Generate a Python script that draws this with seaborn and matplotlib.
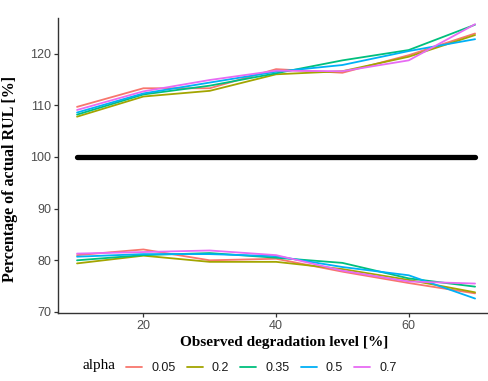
import numpy as np
import pandas as pd
import matplotlib
matplotlib.use("Agg")
import matplotlib.pyplot as plt
from matplotlib.lines import Line2D
import seaborn as sns

# Observed degradation levels [%]
levels = [10, 20, 30, 40, 50, 60, 70]
alphas = ["0.05", "0.2", "0.35", "0.5", "0.7"]

# Upper bound of the predicted RUL, per alpha [% of actual RUL]
upper_005 = [109.7, 113.3, 113.3, 117.0, 116.3, 119.7, 123.9]
upper_02 = [107.8, 111.7, 112.8, 116.0, 116.6, 119.4, 123.6]
upper_035 = [108.2, 112.1, 113.8, 116.2, 118.7, 120.7, 125.6]
upper_05 = [108.6, 112.3, 114.4, 116.5, 117.8, 120.5, 122.8]
upper_07 = [109.1, 112.7, 114.9, 116.7, 116.6, 118.7, 125.7]

# Lower bound of the predicted RUL, per alpha [% of actual RUL]
lower_005 = [81.0, 82.1, 80.0, 80.3, 77.8, 75.6, 73.6]
lower_02 = [79.4, 80.9, 79.7, 79.7, 78.3, 76.2, 73.8]
lower_035 = [80.0, 81.0, 81.4, 80.5, 79.5, 76.5, 74.9]
lower_05 = [80.7, 81.2, 81.2, 80.8, 78.7, 77.1, 72.6]
lower_07 = [81.3, 81.6, 81.9, 81.0, 78.0, 75.9, 75.5]

# Reference: the actual RUL
actual = [100, 100, 100, 100, 100, 100, 100]

uppers = [upper_005, upper_02, upper_035, upper_05, upper_07]
lowers = [lower_005, lower_02, lower_035, lower_05, lower_07]

rows = []
for a, up, lo in zip(alphas, uppers, lowers):
    for x, u, l in zip(levels, up, lo):
        rows.append({"level": x, "pct": u, "alpha": a, "bound": "upper"})
        rows.append({"level": x, "pct": l, "alpha": a, "bound": "lower"})
df = pd.DataFrame(rows)
ref = pd.DataFrame({"level": levels, "pct": actual})

palette = dict(zip(alphas, ["#F8766D", "#A3A500", "#00BF7D", "#00B0F6", "#E76BF3"]))

sns.set_theme(style="white")
plt.rcParams["font.family"] = ["Liberation Sans", "DejaVu Sans"]

W, H = 489, 381
fig = plt.figure(figsize=(W / 100, H / 100), dpi=100)
ax = fig.add_axes([58 / W, 1 - 313 / H, (W - 58) / W, (313 - 18) / H])

sns.lineplot(data=ref, x="level", y="pct", color="black", linewidth=3.8,
             ax=ax, legend=False)
sns.lineplot(data=df, x="level", y="pct", hue="alpha", units="bound",
             estimator=None, palette=palette, hue_order=alphas,
             linewidth=1.3, ax=ax, legend=False)

ax.set_xlim(7.13, 72.1)
ax.set_ylim(69.8, 126.9)
ax.set_xticks([20, 40, 60])
ax.set_yticks([70, 80, 90, 100, 110, 120])

for side in ["top", "right"]:
    ax.spines[side].set_visible(False)
for side in ["left", "bottom"]:
    ax.spines[side].set_color("#333333")
    ax.spines[side].set_linewidth(1.0)
ax.tick_params(axis="both", which="major", length=3, width=0.9, color="#333333",
               labelsize=9, labelcolor="#4D4D4D", pad=2, direction="out",
               bottom=True, left=True)

serif = ["Liberation Serif", "DejaVu Serif"]
ax.set_xlabel("Observed degradation level [%]", fontsize=11, fontweight="bold",
              family=serif, color="black")
ax.set_ylabel("Percentage of actual RUL [%]", fontsize=11.5, fontweight="bold",
              family=serif, color="black")
aw = W - 58
ah = 313 - 18
ax.xaxis.set_label_coords((284 - 58) / aw, -(336 - 313) / ah)
ax.yaxis.set_label_coords(-(58 - 18) / aw, (313 - 179) / ah)

# Legend below the panel, title on the left
fig.text(83 / W, 1 - 366 / H, "alpha", family=serif, fontsize=11,
         va="center", ha="left", color="black")
handles = [Line2D([], [], color=palette[a], linewidth=1.3) for a in alphas]
fig.legend(handles, alphas, ncol=5, loc="center left",
           bbox_to_anchor=(126 / W, 1 - 368 / H), frameon=False,
           fontsize=9, handlelength=1.3, handletextpad=0.7,
           columnspacing=0.9, labelcolor="#1A1A1A", borderaxespad=0,
           borderpad=0)

fig.savefig("out.png", dpi=100)
